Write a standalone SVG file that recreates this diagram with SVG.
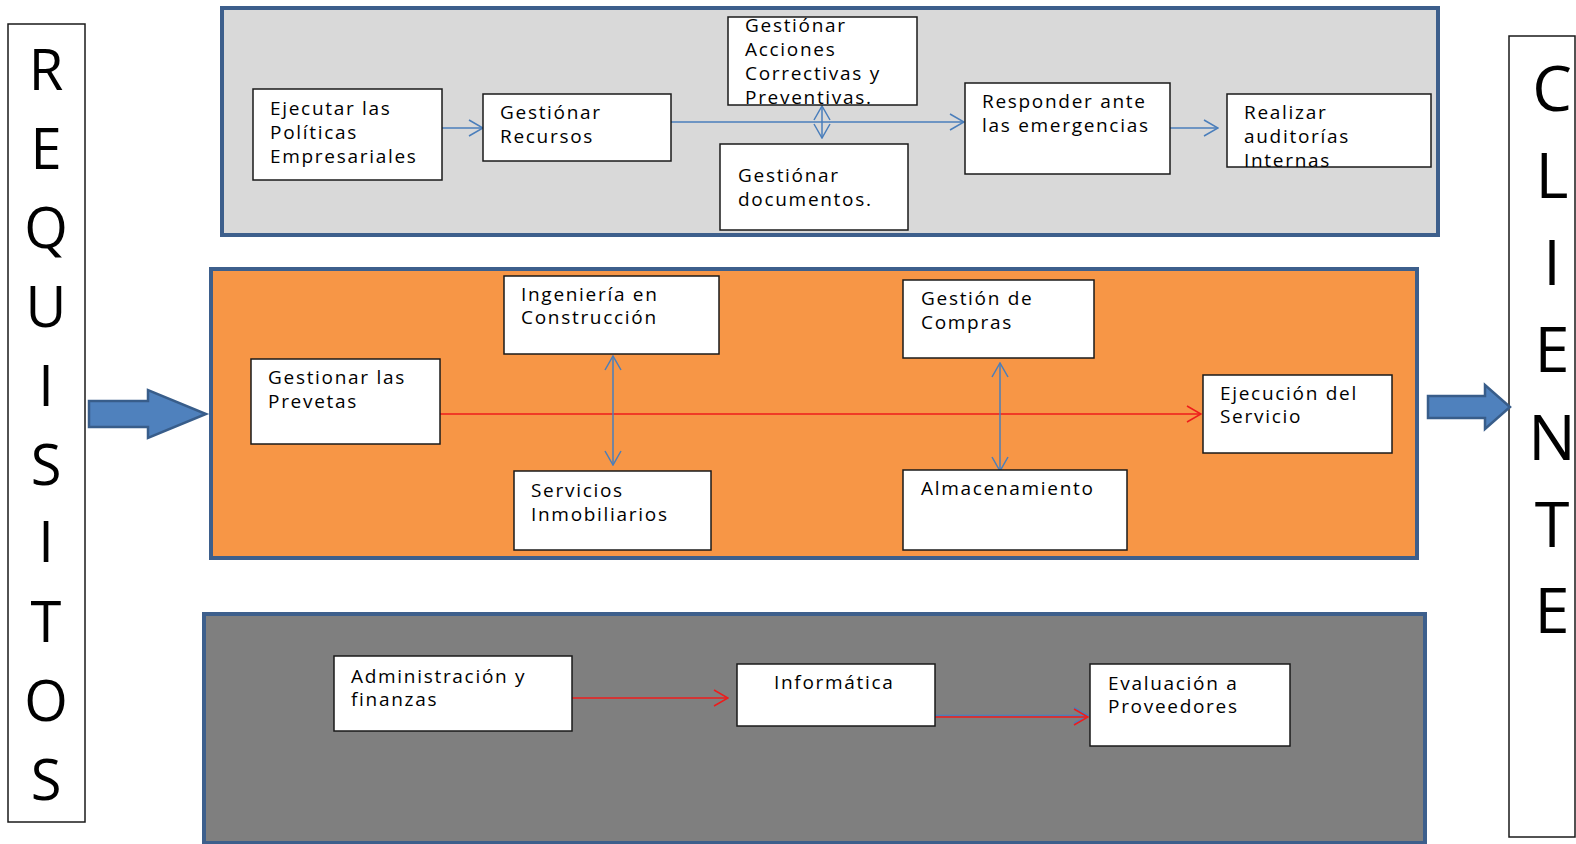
<svg xmlns="http://www.w3.org/2000/svg" width="1576" height="844" viewBox="0 0 1576 844">
  <style>
    .band { stroke: #3d5f8c; stroke-width: 4; }
    .box { fill: #ffffff; stroke: #1a1a1a; stroke-width: 1.5; }
    .lbl { font-family: "Open Sans", "Liberation Sans", sans-serif; font-size: 19px; letter-spacing: 1.7px; fill: #000000; }
    .big { font-family: "Open Sans", "Liberation Sans", sans-serif; fill: #000000; text-anchor: middle; }
    .blue { fill: none; stroke: #4a7ebb; stroke-width: 1.5; }
    .red { fill: none; stroke: #ee1c1c; stroke-width: 1.5; }
    .fat { fill: #4f81bd; stroke: #385d8a; stroke-width: 2.5; }
  </style>
  <defs>
    <marker id="ab" viewBox="0 0 16 18" refX="15" refY="9" markerWidth="16" markerHeight="18" markerUnits="userSpaceOnUse" orient="auto-start-reverse">
      <path d="M1,1 L15,9 L1,17" fill="none" stroke="#4a7ebb" stroke-width="1.5"/>
    </marker>
    <marker id="ar" viewBox="0 0 16 18" refX="15" refY="9" markerWidth="16" markerHeight="18" markerUnits="userSpaceOnUse" orient="auto">
      <path d="M1,1 L15,9 L1,17" fill="none" stroke="#ee1c1c" stroke-width="1.5"/>
    </marker>
  </defs>

  <rect width="1576" height="844" fill="#ffffff"/>

  <!-- process bands -->
  <rect id="band-gestion" class="band" x="222" y="8" width="1216" height="227" fill="#d9d9d9"/>
  <rect id="band-operacion" class="band" x="211" y="269" width="1206" height="289" fill="#f79646"/>
  <rect id="band-apoyo" class="band" x="204" y="614" width="1221" height="229" fill="#7f7f7f"/>

  <!-- side columns -->
  <g id="requisitos">
    <rect class="box" x="8" y="24" width="77" height="798"/>
    <g class="big" font-size="56">
      <text x="46" y="90">R</text>
      <text x="46" y="169">E</text>
      <text x="46" y="248">Q</text>
      <text x="46" y="327">U</text>
      <text x="46" y="406">I</text>
      <text x="46" y="485">S</text>
      <text x="46" y="562">I</text>
      <text x="46" y="642">T</text>
      <text x="46" y="721">O</text>
      <text x="46" y="800">S</text>
    </g>
  </g>
  <g id="cliente">
    <rect class="box" x="1509" y="36" width="66" height="801"/>
    <g class="big" font-size="63">
      <text x="1552" y="111">C</text>
      <text x="1552" y="198">L</text>
      <text x="1552" y="285">I</text>
      <text x="1552" y="372">E</text>
      <text x="1552" y="460">N</text>
      <text x="1552" y="547">T</text>
      <text x="1552" y="633">E</text>
    </g>
  </g>

  <!-- input / output arrows -->
  <g id="flecha-entrada">
    <path class="fat" d="M89,401 H148 V390 L206,414 L148,438 V427 H89 Z"/>
  </g>
  <g id="flecha-salida">
    <path class="fat" d="M1428,396 H1485 V385 L1510,407 L1485,429 V418 H1428 Z"/>
  </g>

  <!-- connectors -->
  <g id="connectors">
    <path class="blue" d="M442,128 H483" marker-end="url(#ab)"/>
    <path class="blue" d="M671,122 H964" marker-end="url(#ab)"/>
    <path class="blue" d="M822,106 V138" marker-start="url(#ab)" marker-end="url(#ab)"/>
    <path class="blue" d="M1170,128 H1218" marker-end="url(#ab)"/>

    <path class="red" d="M435,414 H1201" marker-end="url(#ar)"/>
    <path class="blue" d="M613,356 V465" marker-start="url(#ab)" marker-end="url(#ab)"/>
    <path class="blue" d="M1000,363 V471" marker-start="url(#ab)" marker-end="url(#ab)"/>

    <path class="red" d="M572,698 H728" marker-end="url(#ar)"/>
    <path class="blue" d="M935,715.5 H1088" stroke-width="1" marker-end="url(#ab)"/>
    <path class="red" d="M935,717 H1088" marker-end="url(#ar)"/>
  </g>

  <!-- strategic processes -->
  <g id="n-ejecutar">
    <rect class="box" x="253" y="89" width="189" height="91"/>
    <text class="lbl" x="270" y="115">Ejecutar las</text>
    <text class="lbl" x="270" y="139">Políticas</text>
    <text class="lbl" x="270" y="163">Empresariales</text>
  </g>
  <g id="n-recursos">
    <rect class="box" x="483" y="94" width="188" height="67"/>
    <text class="lbl" x="500" y="119">Gestiónar</text>
    <text class="lbl" x="500" y="143">Recursos</text>
  </g>
  <g id="n-acciones">
    <rect class="box" x="728" y="17" width="189" height="88"/>
    <text class="lbl" x="745" y="32">Gestiónar</text>
    <text class="lbl" x="745" y="56">Acciones</text>
    <text class="lbl" x="745" y="80">Correctivas y</text>
    <text class="lbl" x="745" y="104">Preventivas.</text>
  </g>
  <g id="n-documentos">
    <rect class="box" x="720" y="144" width="188" height="86"/>
    <text class="lbl" x="738" y="182">Gestiónar</text>
    <text class="lbl" x="738" y="206">documentos.</text>
  </g>
  <g id="n-emergencias">
    <rect class="box" x="965" y="83" width="205" height="91"/>
    <text class="lbl" x="982" y="108">Responder ante</text>
    <text class="lbl" x="982" y="132">las emergencias</text>
  </g>
  <g id="n-auditorias">
    <rect class="box" x="1227" y="94" width="204" height="73"/>
    <text class="lbl" x="1244" y="119">Realizar</text>
    <text class="lbl" x="1244" y="143">auditorías</text>
    <text class="lbl" x="1244" y="167">Internas</text>
  </g>

  <!-- operational processes -->
  <g id="n-prevetas">
    <rect class="box" x="251" y="359" width="189" height="85"/>
    <text class="lbl" x="268" y="384">Gestionar las</text>
    <text class="lbl" x="268" y="408">Prevetas</text>
  </g>
  <g id="n-ingenieria">
    <rect class="box" x="504" y="276" width="215" height="78"/>
    <text class="lbl" x="521" y="301">Ingeniería  en</text>
    <text class="lbl" x="521" y="324">Construcción</text>
  </g>
  <g id="n-inmobiliarios">
    <rect class="box" x="514" y="471" width="197" height="79"/>
    <text class="lbl" x="531" y="497">Servicios</text>
    <text class="lbl" x="531" y="521">Inmobiliarios</text>
  </g>
  <g id="n-compras">
    <rect class="box" x="903" y="280" width="191" height="78"/>
    <text class="lbl" x="921" y="305">Gestión de</text>
    <text class="lbl" x="921" y="329">Compras</text>
  </g>
  <g id="n-almacenamiento">
    <rect class="box" x="903" y="470" width="224" height="80"/>
    <text class="lbl" x="921" y="495">Almacenamiento</text>
  </g>
  <g id="n-ejecucion">
    <rect class="box" x="1203" y="375" width="189" height="78"/>
    <text class="lbl" x="1220" y="400">Ejecución del</text>
    <text class="lbl" x="1220" y="423">Servicio</text>
  </g>

  <!-- support processes -->
  <g id="n-administracion">
    <rect class="box" x="334" y="656" width="238" height="75"/>
    <text class="lbl" x="351" y="683">Administración y</text>
    <text class="lbl" x="351" y="706">finanzas</text>
  </g>
  <g id="n-informatica">
    <rect class="box" x="737" y="664" width="198" height="62"/>
    <text class="lbl" x="774" y="689">Informática</text>
  </g>
  <g id="n-evaluacion">
    <rect class="box" x="1090" y="664" width="200" height="82"/>
    <text class="lbl" x="1108" y="690">Evaluación a</text>
    <text class="lbl" x="1108" y="713">Proveedores</text>
  </g>
</svg>
